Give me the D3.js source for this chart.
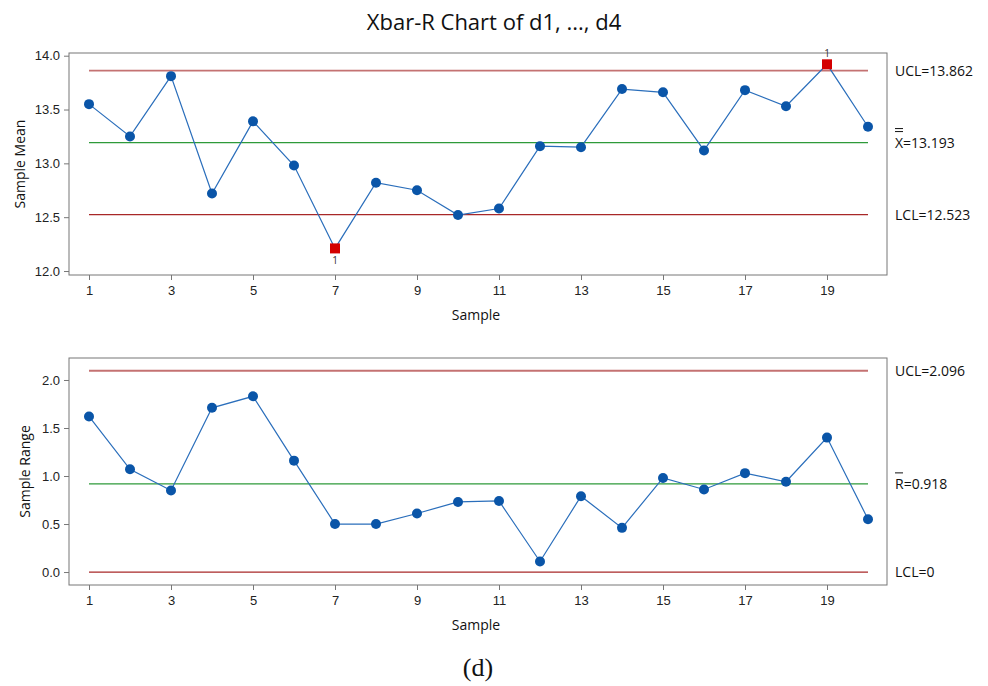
<!DOCTYPE html>
<html>
<head>
<meta charset="utf-8">
<script src="https://cdn.jsdelivr.net/npm/d3@7"></script>
<style>
  body { margin: 0; background: #fff; }
  svg { font-family: "Open Sans", "Noto Sans", sans-serif; }
  .axis path, .axis line { stroke: #777; }
  .axis text { font-size: 13px; fill: #222; }
</style>
</head>
<body>
<svg width="988" height="686"></svg>
<script>
const samples = d3.range(1, 21);
const means = [13.55, 13.25, 13.81, 12.72, 13.39, 12.98, 12.21, 12.82, 12.75, 12.52,
               12.58, 13.16, 13.15, 13.69, 13.66, 13.12, 13.68, 13.53, 13.92, 13.34];
const ranges = [1.62, 1.07, 0.85, 1.71, 1.83, 1.16, 0.50, 0.50, 0.61, 0.73,
                0.74, 0.11, 0.79, 0.46, 0.98, 0.86, 1.03, 0.94, 1.40, 0.55];
const xbarLimits = {ucl: 13.862, center: 13.193, lcl: 12.523};
const rLimits = {ucl: 2.096, center: 0.918, lcl: 0};
const meanTicks = [12.0, 12.5, 13.0, 13.5, 14.0];
const rangeTicks = [0.0, 0.5, 1.0, 1.5, 2.0];
const xTicks = [1, 3, 5, 7, 9, 11, 13, 15, 17, 19];
const flaggedMeans = [7, 19];

const svg = d3.select('svg');
const left = 69, right = 887;

const x = d3.scaleLinear().domain([1, 20]).range([89, 868]);

svg.append('text')
    .attr('x', 494).attr('y', 30)
    .attr('text-anchor', 'middle')
    .attr('font-size', 22).attr('fill', '#111')
    .text('Xbar-R Chart of d1, ..., d4');

function panel(opts) {
  const y = d3.scaleLinear().domain(opts.domain).range([opts.bottom, opts.top]);
  const g = svg.append('g');

  g.append('rect')
      .attr('x', left).attr('y', opts.top)
      .attr('width', right - left).attr('height', opts.bottom - opts.top)
      .attr('fill', 'none').attr('stroke', '#777');

  g.append('g').attr('class', 'axis')
      .attr('transform', `translate(${left},0)`)
      .call(d3.axisLeft(y).tickValues(opts.ticks).tickFormat(d3.format('.1f')).tickSize(5).tickPadding(4))
      .call(a => a.select('.domain').remove());

  g.append('g').attr('class', 'axis')
      .attr('transform', `translate(0,${opts.bottom})`)
      .call(d3.axisBottom(x).tickValues(xTicks).tickFormat(d3.format('d')).tickSize(5).tickPadding(6))
      .call(a => a.select('.domain').remove());

  g.append('text')
      .attr('x', 476).attr('y', opts.bottom + 45)
      .attr('text-anchor', 'middle').attr('font-size', 14).attr('fill', '#111')
      .text('Sample');

  g.append('text')
      .attr('transform', `translate(${opts.ylabX},${(opts.top + opts.bottom) / 2}) rotate(-90)`)
      .attr('text-anchor', 'middle').attr('font-size', 14).attr('fill', '#111')
      .text(opts.ylabel);

  const lim = opts.limits;
  const lines = [
    {v: lim.ucl, c: '#c47272', w: 1.8},
    {v: lim.center, c: '#2e9a3a', w: 1.2},
    {v: lim.lcl, c: '#a82828', w: 1.2}
  ];
  g.selectAll('.lim').data(lines).enter().append('line')
      .attr('x1', x(1)).attr('x2', x(20))
      .attr('y1', d => y(d.v)).attr('y2', d => y(d.v))
      .attr('stroke', d => d.c).attr('stroke-width', d => d.w);

  // right side labels
  const lab = g.append('g').attr('font-size', 14).attr('fill', '#111');
  lab.append('text').attr('x', 895).attr('y', y(lim.ucl) + 5).text('UCL=' + opts.uclText);
  lab.append('text').attr('x', 895).attr('y', y(lim.lcl) + 5).text('LCL=' + opts.lclText);
  lab.append('text').attr('x', 895).attr('y', y(lim.center) + 5).text(opts.centerText);
  const w = 8;
  const oy = y(lim.center) - 11;
  for (let i = 0; i < opts.bars; i++) {
    lab.append('line')
        .attr('x1', 895).attr('x2', 895 + w)
        .attr('y1', oy - i * 3).attr('y2', oy - i * 3)
        .attr('stroke', '#111').attr('stroke-width', 1);
  }

  const line = d3.line().x((d, i) => x(samples[i])).y(d => y(d));
  g.append('path').datum(opts.values)
      .attr('d', line).attr('fill', 'none')
      .attr('stroke', '#2a6ebb').attr('stroke-width', 1.2);

  const pts = samples.map((s, i) => ({s, v: opts.values[i], bad: opts.flagged.includes(s)}));
  g.selectAll('.pt').data(pts.filter(d => !d.bad)).enter().append('circle')
      .attr('cx', d => x(d.s)).attr('cy', d => y(d.v)).attr('r', 5)
      .attr('fill', '#0a55a8');
  const bad = pts.filter(d => d.bad);
  g.selectAll('.bad').data(bad).enter().append('rect')
      .attr('x', d => x(d.s) - 5).attr('y', d => y(d.v) - 5)
      .attr('width', 10).attr('height', 10)
      .attr('fill', '#d40000');
  g.selectAll('.badlab').data(bad).enter().append('text')
      .attr('x', d => x(d.s))
      .attr('y', d => d.v > lim.center ? y(d.v) - 7 : y(d.v) + 16)
      .attr('text-anchor', 'middle').attr('font-size', 10).attr('fill', '#333')
      .text('1');
}

panel({
  top: 53, bottom: 275, domain: [11.963, 14.025],
  ticks: meanTicks, values: means, limits: xbarLimits, flagged: flaggedMeans,
  ylabel: 'Sample Mean', ylabX: 25,
  uclText: '13.862', lclText: '12.523', centerText: 'X=13.193', bars: 2
});

panel({
  top: 358, bottom: 585, domain: [-0.135, 2.229],
  ticks: rangeTicks, values: ranges, limits: rLimits, flagged: [],
  ylabel: 'Sample Range', ylabX: 30,
  uclText: '2.096', lclText: '0', centerText: 'R=0.918', bars: 1
});

svg.append('text')
    .attr('x', 478).attr('y', 676)
    .attr('text-anchor', 'middle')
    .attr('font-family', '"Liberation Serif", "DejaVu Serif", serif')
    .attr('font-size', 26).attr('fill', '#111')
    .text('(d)');
</script>
</body>
</html>
